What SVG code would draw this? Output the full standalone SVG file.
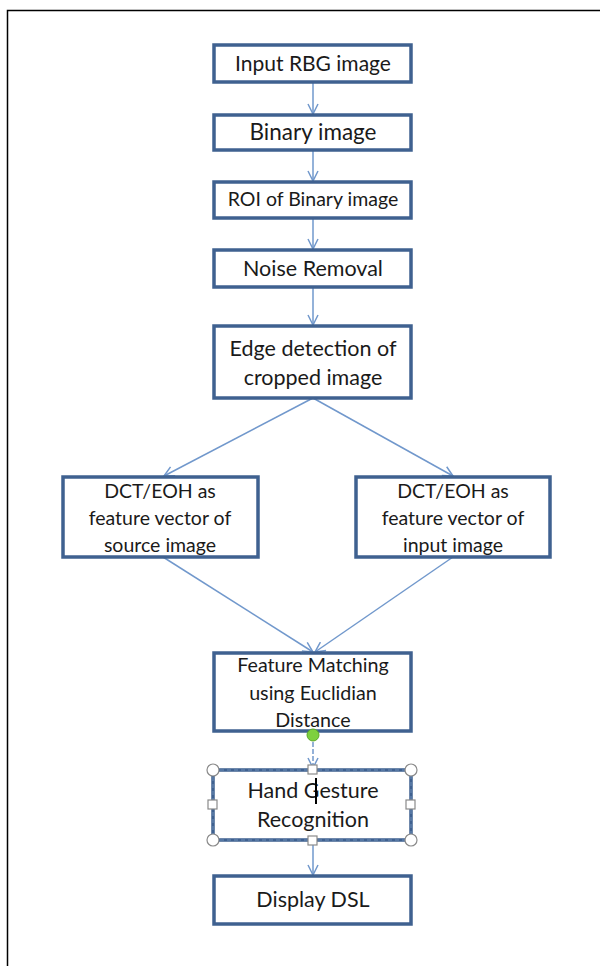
<svg xmlns="http://www.w3.org/2000/svg" width="600" height="966" viewBox="0 0 600 966">
<style>
.box{fill:#fff;stroke:#3f6190;stroke-width:3.5}
.t{font-family:Lato,"Liberation Sans",sans-serif;font-size:21.5px;fill:#1a1a1a;text-anchor:middle}
.ts{font-size:19.5px}
.tm{font-size:19.7px}
.c{stroke:#7198cc;stroke-width:1.5;fill:none}
.h{fill:#fff;stroke:#8a8a8a;stroke-width:1.2}
</style>
<defs>
<marker id="a" viewBox="0 0 12 12" refX="11" refY="6" markerWidth="12" markerHeight="12" markerUnits="userSpaceOnUse" orient="auto">
<path d="M1,1 L11,6 L1,11" fill="none" stroke="#7198cc" stroke-width="1.5"/>
</marker>
</defs>
<rect width="600" height="966" fill="#fff"/>
<path d="M7.5,966 V10.5 H600" fill="none" stroke="#000" stroke-width="1.5"/>
<g id="connectors">
<line class="c" x1="313" y1="82" x2="313" y2="114" marker-end="url(#a)"/>
<line class="c" x1="313" y1="150" x2="313" y2="181" marker-end="url(#a)"/>
<line class="c" x1="313" y1="218" x2="313" y2="249" marker-end="url(#a)"/>
<line class="c" x1="313" y1="287" x2="313" y2="325" marker-end="url(#a)"/>
<line class="c" x1="313" y1="398" x2="164" y2="476" marker-end="url(#a)"/>
<line class="c" x1="313" y1="398" x2="453" y2="476" marker-end="url(#a)"/>
<line class="c" x1="163" y1="557" x2="313" y2="652" marker-end="url(#a)"/>
<line class="c" x1="453" y1="557" x2="315" y2="652" marker-end="url(#a)"/>
<line class="c" x1="313" y1="735" x2="313" y2="768" stroke-dasharray="5,2" marker-end="url(#a)"/>
<line class="c" x1="313" y1="841" x2="313" y2="875" marker-end="url(#a)"/>
</g>
<g id="n1"><rect class="box" x="214" y="45" width="197" height="37"/><text class="t" x="313" y="71" style="font-size:21px">Input RBG image</text></g>
<g id="n2"><rect class="box" x="214" y="115" width="197" height="35"/><text class="t" x="313" y="140" style="font-size:22.5px">Binary image</text></g>
<g id="n3"><rect class="box" x="214" y="182" width="197" height="36"/><text class="t ts" x="313" y="206">ROI of Binary image</text></g>
<g id="n4"><rect class="box" x="214" y="250" width="197" height="37"/><text class="t" x="313" y="276">Noise Removal</text></g>
<g id="n5"><rect class="box" x="214" y="326" width="197" height="72"/><text class="t" x="313" y="356">Edge detection of</text><text class="t" x="313" y="385">cropped image</text></g>
<g id="n6"><rect class="box" x="63" y="477" width="195" height="80"/><text class="t ts" x="160" y="498">DCT/EOH as</text><text class="t ts" x="160" y="525">feature vector of</text><text class="t ts" x="160" y="552">source image</text></g>
<g id="n7"><rect class="box" x="356" y="477" width="194" height="80"/><text class="t ts" x="453" y="498">DCT/EOH as</text><text class="t ts" x="453" y="525">feature vector of</text><text class="t ts" x="453" y="552">input image</text></g>
<g id="n8"><rect class="box" x="214" y="653" width="197" height="78"/><text class="t tm" x="313" y="672">Feature Matching</text><text class="t tm" x="313" y="700">using Euclidian</text><text class="t tm" x="313" y="727">Distance</text></g>
<g id="n9"><rect class="box" x="213" y="770" width="198" height="70"/>
<rect x="213" y="770" width="198" height="70" fill="none" stroke="#6f8fb8" stroke-width="1" stroke-dasharray="4,3"/>
<text class="t" x="313" y="798">Hand Gesture</text><text class="t" x="313" y="827">Recognition</text>
<line x1="316" y1="778" x2="316" y2="804" stroke="#000" stroke-width="2"/>
<circle class="h" cx="213" cy="770" r="6"/><circle class="h" cx="411" cy="770" r="6"/><circle class="h" cx="213" cy="840" r="6"/><circle class="h" cx="411" cy="840" r="6"/>
<rect class="h" x="308" y="765" width="9" height="9"/><rect class="h" x="308" y="836" width="9" height="9"/><rect class="h" x="208" y="800" width="9" height="9"/><rect class="h" x="406" y="800" width="9" height="9"/>
<circle cx="313" cy="735" r="6" fill="#7ed03e" stroke="#5aa82a" stroke-width="1"/>
</g>
<g id="n10"><rect class="box" x="214" y="876" width="197" height="48"/><text class="t" x="313" y="907">Display DSL</text></g>
</svg>
